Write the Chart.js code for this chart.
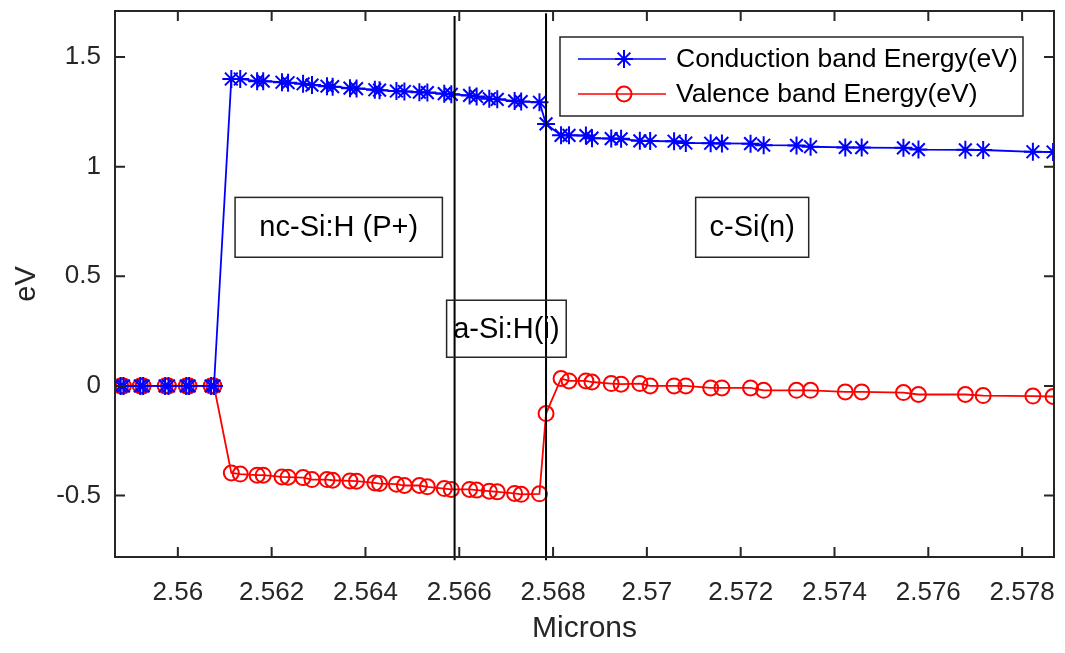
<!DOCTYPE html>
<html>
<head>
<meta charset="utf-8">
<title>Band energy</title>
<script src="https://cdn.jsdelivr.net/npm/chart.js@4.4.0/dist/chart.umd.min.js"></script>
<style>
  html, body { margin: 0; padding: 0; background: #fff; }
</style>
</head>
<body>
<canvas id="band-chart" width="1065" height="653"></canvas>
<script>
// position along the device, microns
const microns = [
  2.55878, 2.55884, 2.55920, 2.55926, 2.55973, 2.55980, 2.56018, 2.56024, 2.56071, 2.56077,
  2.56114, 2.56133, 2.56169, 2.56182, 2.56222, 2.56235, 2.56267, 2.56286, 2.56318, 2.56330,
  2.56367, 2.56381, 2.56420, 2.56430, 2.56466, 2.56483, 2.56515, 2.56532, 2.56568, 2.56583,
  2.56622, 2.56637, 2.56664, 2.56681, 2.56718, 2.56732, 2.56771, 2.56785,
  2.56817, 2.56834, 2.56870, 2.56883, 2.56924, 2.56945, 2.56985, 2.57007, 2.57058, 2.57083,
  2.57136, 2.57160, 2.57221, 2.57249, 2.57319, 2.57349, 2.57423, 2.57458, 2.57547, 2.57579,
  2.57679, 2.57717, 2.57823, 2.57866
];

const conductionBand = [
  0, 0, 0, 0, 0, 0, 0, 0, 0, 0,
  1.400, 1.400, 1.390, 1.390, 1.385, 1.383, 1.378, 1.372, 1.367, 1.365,
  1.358, 1.356, 1.351, 1.349, 1.345, 1.343, 1.340, 1.338, 1.333, 1.330,
  1.325, 1.320, 1.310, 1.307, 1.300, 1.297, 1.294, 1.195,
  1.143, 1.143, 1.142, 1.130, 1.128, 1.127, 1.118, 1.117, 1.116, 1.108,
  1.107, 1.106, 1.105, 1.098, 1.097, 1.091, 1.088, 1.087, 1.086, 1.078,
  1.077, 1.076, 1.068, 1.067
];

const valenceBand = [
  0, 0, 0, 0, 0, 0, 0, 0, 0, 0,
  -0.397, -0.402, -0.407, -0.407, -0.415, -0.416, -0.418, -0.427, -0.427, -0.430,
  -0.433, -0.434, -0.442, -0.445, -0.448, -0.454, -0.454, -0.460, -0.468, -0.472,
  -0.472, -0.475, -0.480, -0.483, -0.490, -0.494, -0.492, -0.126,
  0.034, 0.023, 0.023, 0.018, 0.011, 0.008, 0.011, 0.000, 0.000, 0.000,
  -0.009, -0.009, -0.009, -0.020, -0.020, -0.020, -0.027, -0.027, -0.030, -0.039,
  -0.039, -0.044, -0.046, -0.048
];

const xTicks = [2.56, 2.562, 2.564, 2.566, 2.568, 2.57, 2.572, 2.574, 2.576, 2.578];
const yTicks = [-0.5, 0, 0.5, 1, 1.5];

// layer interfaces and names
const layerEdges = [2.5659, 2.56785];
const layerNames = ['nc-Si:H (P+)', 'a-Si:H(i)', 'c-Si(n)'];
// text boxes in data units: [left, right, top, bottom]
const layerBoxes = [
  [2.56122, 2.56564, 0.860, 0.587],
  [2.56573, 2.56828, 0.391, 0.131],
  [2.57104, 2.57345, 0.860, 0.587]
];

const ink = '#262626';
const family = '"Liberation Sans", Arial, Helvetica, sans-serif';

function drawMarker(ctx, style, x, y, r) {
  ctx.beginPath();
  if (style === 'star') {
    const d = r * Math.SQRT1_2;
    ctx.moveTo(x - r, y); ctx.lineTo(x + r, y);
    ctx.moveTo(x, y - r); ctx.lineTo(x, y + r);
    ctx.moveTo(x - d, y - d); ctx.lineTo(x + d, y + d);
    ctx.moveTo(x - d, y + d); ctx.lineTo(x + d, y - d);
  } else {
    ctx.arc(x, y, r, 0, Math.PI * 2);
  }
  ctx.stroke();
}

// matlab style box with inward ticks on all four sides
const axesBox = {
  id: 'axesBox',
  afterDatasetsDraw(chart) {
    const {ctx, chartArea: a, scales} = chart;
    const len = 10;
    ctx.save();
    ctx.strokeStyle = ink;
    ctx.lineWidth = 2;
    ctx.strokeRect(a.left, a.top, a.right - a.left, a.bottom - a.top);
    ctx.beginPath();
    xTicks.forEach(v => {
      const px = scales.x.getPixelForValue(v);
      ctx.moveTo(px, a.bottom); ctx.lineTo(px, a.bottom - len);
      ctx.moveTo(px, a.top); ctx.lineTo(px, a.top + len);
    });
    yTicks.forEach(v => {
      const py = scales.y.getPixelForValue(v);
      ctx.moveTo(a.left, py); ctx.lineTo(a.left + len, py);
      ctx.moveTo(a.right, py); ctx.lineTo(a.right - len, py);
    });
    ctx.stroke();
    ctx.restore();
  }
};

const layers = {
  id: 'layers',
  afterDatasetsDraw(chart) {
    const {ctx, scales: {x, y}} = chart;
    ctx.save();
    ctx.strokeStyle = '#000';
    ctx.lineWidth = 2;
    const tops = [1.687, 1.70];
    layerEdges.forEach((v, i) => {
      const px = x.getPixelForValue(v);
      ctx.beginPath();
      ctx.moveTo(px, y.getPixelForValue(tops[i]));
      ctx.lineTo(px, y.getPixelForValue(-0.795));
      ctx.stroke();
    });
    ctx.lineWidth = 1.5;
    ctx.strokeStyle = ink;
    ctx.fillStyle = '#000';
    ctx.font = '29px ' + family;
    ctx.textAlign = 'center';
    ctx.textBaseline = 'middle';
    layerBoxes.forEach((b, i) => {
      const l = x.getPixelForValue(b[0]), r = x.getPixelForValue(b[1]);
      const t = y.getPixelForValue(b[2]), btm = y.getPixelForValue(b[3]);
      ctx.strokeRect(l, t, r - l, btm - t);
      ctx.fillText(layerNames[i], (l + r) / 2, (t + btm) / 2 + 1);
    });
    ctx.restore();
  }
};

const boxLegend = {
  id: 'boxLegend',
  afterDraw(chart) {
    const {ctx, chartArea: a} = chart;
    const left = a.right - 494, top = a.top + 26, w = 463, h = 79;
    ctx.save();
    ctx.fillStyle = '#fff';
    ctx.fillRect(left, top, w, h);
    ctx.strokeStyle = ink;
    ctx.lineWidth = 1.5;
    ctx.strokeRect(left, top, w, h);
    ctx.font = '26.5px ' + family;
    ctx.textBaseline = 'middle';
    chart.data.datasets.forEach((ds, i) => {
      const yy = top + 22 + i * 35;
      ctx.strokeStyle = ds.borderColor;
      ctx.lineWidth = 1.5;
      ctx.beginPath();
      ctx.moveTo(left + 18, yy); ctx.lineTo(left + 106, yy);
      ctx.stroke();
      ctx.lineWidth = ds.pointBorderWidth;
      drawMarker(ctx, ds.pointStyle, left + 64, yy, ds.pointRadius);
      ctx.fillStyle = '#000';
      ctx.fillText(ds.label, left + 116, yy + 1);
    });
    ctx.restore();
  }
};

new Chart(document.getElementById('band-chart'), {
  type: 'line',
  data: {
    datasets: [
      {
        label: 'Conduction band Energy(eV)',
        data: microns.map((m, i) => ({x: m, y: conductionBand[i]})),
        borderColor: '#0000ff',
        backgroundColor: '#0000ff',
        borderWidth: 1.8,
        pointStyle: 'star',
        pointRadius: 9,
        pointBorderWidth: 2,
        pointBorderColor: '#0000ff'
      },
      {
        label: 'Valence band Energy(eV)',
        data: microns.map((m, i) => ({x: m, y: valenceBand[i]})),
        borderColor: '#ff0000',
        backgroundColor: 'rgba(0,0,0,0)',
        borderWidth: 1.8,
        pointStyle: 'circle',
        pointRadius: 7.5,
        pointBorderWidth: 2,
        pointBorderColor: '#ff0000',
        pointBackgroundColor: 'rgba(0,0,0,0)'
      }
    ]
  },
  options: {
    responsive: false,
    animation: false,
    events: [],
    layout: {padding: {top: 10, right: 9, left: 0, bottom: 0}},
    plugins: {legend: {display: false}, tooltip: {enabled: false}},
    scales: {
      x: {
        type: 'linear',
        min: 2.55866,
        max: 2.57868,
        afterBuildTicks: s => { s.ticks = xTicks.map(v => ({value: v})); },
        afterFit: s => { s.height = 96; s.paddingLeft = 0; s.paddingRight = 0; },
        grid: {display: false, drawTicks: false},
        border: {display: false},
        ticks: {
          color: ink,
          font: {family, size: 26},
          padding: 20,
          maxRotation: 0,
          autoSkip: false,
          callback: v => String(+v.toFixed(3))
        },
        title: {display: true, text: 'Microns', color: ink, font: {family, size: 30}, padding: {top: 0, bottom: 6}}
      },
      y: {
        type: 'linear',
        min: -0.78,
        max: 1.71,
        afterBuildTicks: s => { s.ticks = yTicks.map(v => ({value: v})); },
        afterFit: s => { s.width = 115; s.paddingTop = 0; s.paddingBottom = 0; },
        grid: {display: false, drawTicks: false},
        border: {display: false},
        ticks: {
          color: ink,
          font: {family, size: 26},
          padding: 14,
          callback: v => String(v)
        },
        title: {display: true, text: 'eV', color: ink, font: {family, size: 29}, padding: {top: 10, bottom: 0}}
      }
    }
  },
  plugins: [layers, axesBox, boxLegend]
});
</script>
</body>
</html>
